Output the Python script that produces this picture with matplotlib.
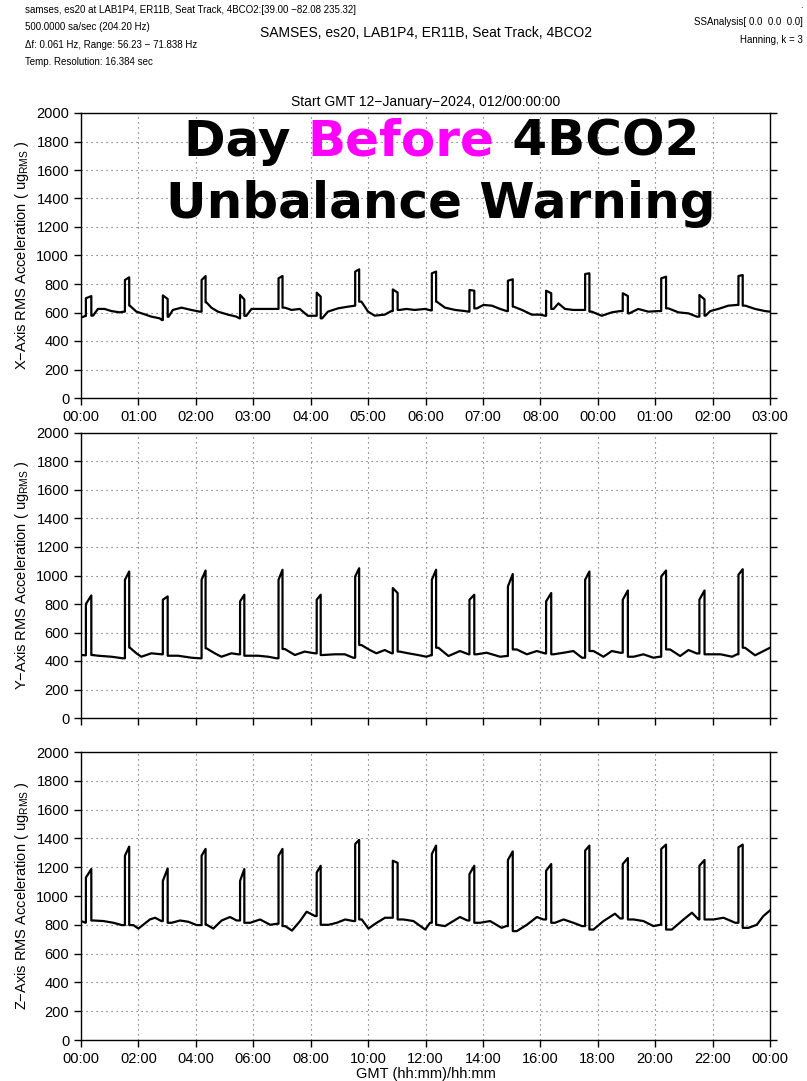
#!/usr/bin/env python3
# -*- coding: utf-8 -*-

"""
SAMS RMS acceleration, 3 axes, one day with the 4BCO2 pulses
"""

import matplotlib
matplotlib.use("Agg")
import matplotlib.pyplot as plt
import matplotlib as mpl

mpl.rcParams['font.family'] = ['Liberation Sans', 'DejaVu Sans']
mpl.rcParams['font.size'] = 10.5

# Heures de debut / fin des impulsions (h depuis 00:00)
pulse_on = [0.17, 1.53, 2.85, 4.20, 5.54, 6.88, 8.21, 9.55, 10.86, 12.22, 13.53, 14.87,
            16.20, 17.56, 18.87, 20.21, 21.54, 22.90]
pulse_off = [0.36, 1.68, 3.02, 4.34, 5.69, 7.02, 8.35, 9.69, 11.03, 12.37, 13.70, 15.04,
             16.38, 17.71, 19.05, 20.38, 21.72, 23.05]

# niveau au debut / a la fin de chaque impulsion
x_lo = [700, 828, 720, 828, 723, 840, 739, 887, 762, 875, 758, 823, 753, 870, 735, 840, 723, 856]
x_hi = [715, 847, 695, 856, 692, 856, 711, 903, 740, 887, 753, 833, 735, 875, 716, 851, 692, 863]
y_lo = [800, 970, 830, 970, 818, 970, 830, 993, 912, 970, 830, 923, 818, 970, 830, 993, 830, 1005]
y_hi = [860, 1028, 853, 1035, 865, 1040, 865, 1051, 877, 1040, 865, 1010, 877, 1028, 895, 1035, 895, 1044]
z_lo = [1128, 1280, 1105, 1280, 1105, 1280, 1163, 1361, 1245, 1292, 1152, 1250, 1175, 1315, 1222, 1327, 1210, 1338]
z_hi = [1187, 1343, 1191, 1327, 1187, 1327, 1210, 1390, 1230, 1350, 1210, 1310, 1222, 1350, 1264, 1357, 1250, 1357]

# ligne de base
x_base_t = [0.0, 0.15, 0.42, 0.59, 0.82, 1.06, 1.35, 1.50, 1.70, 1.93, 2.22, 2.45, 2.74, 2.82,
            3.05, 3.20, 3.50, 3.84, 4.13, 4.37, 4.54, 4.77, 5.12, 5.41, 5.52, 5.76, 5.94, 6.28,
            6.63, 6.86, 7.10, 7.33, 7.62, 7.90, 8.14, 8.40, 8.60, 8.95, 9.30, 9.53, 9.77, 10.0,
            10.23, 10.58, 10.81, 11.10, 11.33, 11.63, 11.98, 12.18, 12.39, 12.68, 13.03, 13.38,
            13.50, 13.79, 14.02, 14.31, 14.60, 14.83, 15.07, 15.36, 15.70, 15.99, 16.17, 16.46,
            16.63, 16.86, 17.15, 17.44, 17.79, 18.14, 18.49, 18.78, 19.10, 19.41, 19.76, 20.11,
            20.46, 20.81, 21.16, 21.45, 21.76, 21.92, 22.20, 22.55, 22.84, 23.14, 23.48, 23.83, 24.0]
x_base_v = [565, 575, 578, 625, 625, 610, 601, 606, 648, 606, 587, 571, 559, 547,
            570, 618, 634, 618, 606, 671, 634, 606, 585, 571, 559, 577, 625, 625,
            625, 625, 634, 618, 625, 577, 577, 559, 606, 629, 641, 648, 676, 606,
            578, 585, 610, 618, 625, 618, 625, 615, 676, 634, 618, 610,
            606, 629, 653, 648, 625, 610, 641, 618, 585, 585, 577, 625,
            664, 625, 618, 618, 606, 577, 601, 610, 594, 625, 606, 610,
            629, 601, 594, 571, 578, 610, 625, 648, 653, 648, 625, 610, 606]

y_base_t = [0.0, 0.15, 0.40, 0.60, 1.06, 1.46, 1.70, 1.93, 2.10, 2.45, 2.80, 3.05, 3.38, 3.85,
            4.14, 4.37, 4.66, 4.89, 5.24, 5.47, 5.76, 6.17, 6.52, 6.81, 7.10, 7.45, 7.79, 8.14,
            8.43, 8.84, 9.19, 9.48, 9.77, 10.06, 10.29, 10.58, 10.82, 11.10, 11.40, 11.74, 12.03,
            12.18, 12.45, 12.80, 13.20, 13.50, 13.78, 14.13, 14.60, 14.83, 15.18, 15.53, 15.88,
            16.17, 16.46, 16.81, 17.15, 17.45, 17.85, 18.20, 18.49, 18.78, 19.25, 19.59, 19.94,
            20.15, 20.52, 20.87, 21.16, 21.45, 21.92, 22.28, 22.68, 22.85, 23.13, 23.48, 23.77, 24.0]
y_base_v = [442, 440, 442, 437, 430, 419, 494, 454, 430, 454, 447, 437, 437, 423,
            419, 489, 454, 430, 454, 447, 437, 437, 430, 419, 484, 442, 466, 454,
            442, 447, 447, 423, 512, 477, 454, 477, 454, 466, 454, 442, 430,
            440, 493, 435, 470, 447, 447, 458, 430, 435, 481, 447, 470,
            453, 447, 458, 470, 423, 470, 430, 470, 458, 430, 447, 423,
            430, 481, 435, 477, 453, 447, 447, 430, 447, 493, 440, 470, 493]

z_base_t = [0.0, 0.15, 0.43, 0.78, 1.13, 1.42, 1.82, 2.0, 2.40, 2.58, 2.80, 3.16, 3.45, 3.74,
            4.03, 4.38, 4.61, 4.90, 5.19, 5.42, 5.89, 6.24, 6.59, 6.82, 7.11, 7.35, 7.63, 7.86,
            8.15, 8.62, 8.91, 9.20, 9.49, 9.78, 10.01, 10.30, 10.59, 10.82, 11.23, 11.58, 11.99,
            12.16, 12.39, 12.68, 13.20, 13.46, 13.90, 14.25, 14.65, 14.81, 15.18, 15.53, 15.88,
            16.11, 16.51, 16.81, 17.15, 17.45, 17.85, 18.20, 18.60, 18.78, 19.25, 19.59, 19.94,
            20.17, 20.58, 20.99, 21.28, 21.51, 22.03, 22.38, 22.79, 23.25, 23.54, 23.77, 24.0]
z_base_v = [826, 815, 830, 826, 814, 798, 798, 774, 837, 849, 826, 814, 830, 821,
            798, 800, 774, 830, 854, 830, 814, 837, 800, 807, 791, 760, 826, 891,
            861, 800, 814, 837, 826, 837, 774, 814, 849, 849, 837, 826, 767,
            814, 800, 791, 854, 830, 814, 826, 779, 791, 756, 800, 854,
            837, 814, 837, 814, 791, 767, 826, 877, 844, 837, 826, 791,
            800, 767, 837, 884, 837, 837, 849, 814, 779, 800, 861, 900]

top_labels = ['00:00', '01:00', '02:00', '03:00', '04:00', '05:00', '06:00', '07:00', '08:00',
              '00:00', '01:00', '02:00', '03:00']
bottom_labels = ['00:00', '02:00', '04:00', '06:00', '08:00', '10:00', '12:00', '14:00',
                 '16:00', '18:00', '20:00', '22:00', '00:00']
hour_ticks = list(range(0, 25, 2))


def build(base_t, base_v, lo, hi):
    # ligne de base + fronts des impulsions
    pts = list(zip(base_t, base_v))
    for on, off, a, b in zip(pulse_on, pulse_off, lo, hi):
        before = [v for t, v in zip(base_t, base_v) if t < on][-1]
        after = [v for t, v in zip(base_t, base_v) if t > off][0]
        pts += [(on, before), (on + 0.001, a), (off - 0.001, b), (off, after)]
    pts.sort()
    return [p[0] for p in pts], [p[1] for p in pts]


def style(ax, labels, ylabel):
    ax.set_xlim(0, 24)
    ax.set_ylim(0, 2000)
    ax.set_yticks(range(0, 2001, 200))
    ax.set_xticks(hour_ticks)
    if labels is None:
        ax.set_xticklabels([])
    else:
        ax.set_xticklabels(labels)
    ax.tick_params(direction='out', length=5, width=1, right=True, top=False)
    ax.grid(True, linestyle=(0, (1, 3.5)), color='0.35', linewidth=0.8)
    for s in ax.spines.values():
        s.set_linewidth(1.0)
    ax.set_ylabel(ylabel, labelpad=4)


if __name__ == "__main__":

    fig = plt.figure(figsize=(8.07, 10.81), dpi=100)
    W = 689 / 807
    L = 81 / 807
    ax1 = fig.add_axes([L, 683 / 1081, W, 285 / 1081])
    ax2 = fig.add_axes([L, 363 / 1081, W, 285 / 1081])
    ax3 = fig.add_axes([L, 41 / 1081, W, 288 / 1081])

    for ax, bt, bv, lo, hi in [(ax1, x_base_t, x_base_v, x_lo, x_hi),
                               (ax2, y_base_t, y_base_v, y_lo, y_hi),
                               (ax3, z_base_t, z_base_v, z_lo, z_hi)]:
        t, v = build(bt, bv, lo, hi)
        ax.plot(t, v, color='black', lw=1.6)

    style(ax1, top_labels, 'X\u2212Axis RMS Acceleration ( ug$_{\\mathregular{RMS}}$ )')
    style(ax2, None, 'Y\u2212Axis RMS Acceleration ( ug$_{\\mathregular{RMS}}$ )')
    style(ax3, bottom_labels, 'Z\u2212Axis RMS Acceleration ( ug$_{\\mathregular{RMS}}$ )')
    ax3.set_xlabel('GMT (hh:mm)/hh:mm', labelpad=1)
    ax1.set_title('Start GMT 12\u2212January\u22122024, 012/00:00:00', fontsize=10, pad=5)

    # en-tete
    hdr = ['samses, es20 at LAB1P4, ER11B, Seat Track, 4BCO2:[39.00 \u221282.08 235.32]',
           '500.0000 sa/sec (204.20 Hz)',
           '\u0394f: 0.061 Hz, Range: 56.23 \u2212 71.838 Hz',
           'Temp. Resolution: 16.384 sec']
    for i, s in enumerate(hdr):
        fig.text(25 / 807, 1 - (10 + 17.3 * i) / 1081, s, fontsize=7.0, va='center')
    fig.text(426 / 807, 1 - 33 / 1081, 'SAMSES, es20, LAB1P4, ER11B, Seat Track, 4BCO2',
             fontsize=10, ha='center', va='center')
    fig.text(803 / 807, 1 - 22 / 1081, 'SSAnalysis[ 0.0  0.0  0.0]', fontsize=7.0,
             ha='right', va='center')
    fig.text(803 / 807, 1 - 40 / 1081, 'Hanning, k = 3', fontsize=7.0, ha='right', va='center')
    fig.text(803 / 807, 1 - 5 / 1081, '.', fontsize=7.0, ha='right', va='center')

    # texte d'annotation en gras
    big = dict(fontsize=36, fontweight='bold', family='DejaVu Sans', va='center')
    fig.canvas.draw()
    r = fig.canvas.get_renderer()
    parts = [('Day ', 'black'), ('Before', '#ff00ff'), (' 4BCO2', 'black')]
    texts = [fig.text(0, 0, p, color=c, **big) for p, c in parts]
    widths = [tx.get_window_extent(r).width for tx in texts]
    x0 = 441.5 - sum(widths) / 2
    yl1 = 1081 - 142
    for tx, w in zip(texts, widths):
        tx.set_position((x0 / 807, yl1 / 1081))
        x0 += w
    fig.text(441 / 807, (1081 - 204) / 1081, 'Unbalance Warning', color='black',
             ha='center', **big)

    plt.savefig('out.png', dpi=100)
